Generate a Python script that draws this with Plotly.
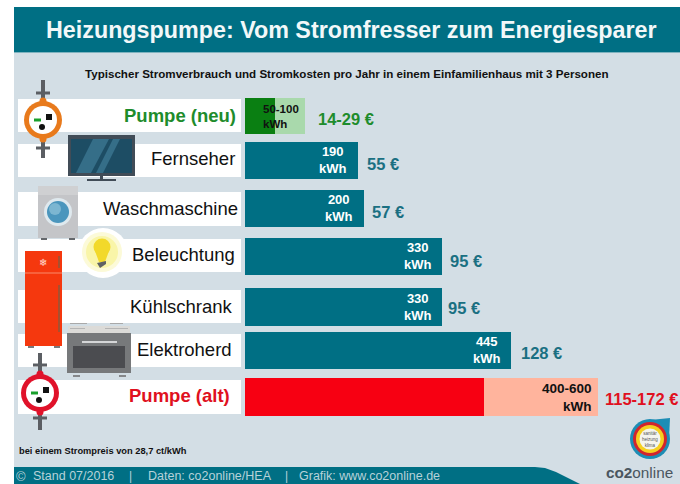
import plotly.graph_objects as go

# ---- data ----
categories = ["Pumpe (neu)", "Fernseher", "Waschmaschine", "Beleuchtung", "Kühlschrank", "Elektroherd", "Pumpe (alt)"]
kwh_low = [50, 190, 200, 330, 330, 445, 400]
# drawn bar ends as measured in the picture (the old pump's bar is drawn a little short of its 600 kWh label)
kwh_high = [100, 190, 200, 330, 330, 445, 591]
kwh_labels = ["50-100<br>kWh", "190<br>kWh", "200<br>kWh", "330<br>kWh", "330<br>kWh", "445<br>kWh", "400-600<br>kWh"]
cost_labels = ["14-29 €", "55 €", "57 €", "95 €", "95 €", "128 €", "115-172 €"]

# ---- layout constants (pixels in the 680x484 window) ----
W, H = 680, 484
PX_PER_KWH = 0.597
X0 = 245
ROW_Y = [116, 160.5, 208.5, 256.5, 307, 350.5, 397]
BAR_H = [36, 37, 37, 37, 38, 37, 38]
ROW_WHITE = [(99, 132), (144, 177), (192, 226), (239, 272), (290, 323), (334, 367), (380, 414)]
LABEL_Y = [115, 158, 208, 255, 306, 349, 395]
LABEL_RIGHT = [236, 235, 238, 235, 233, 232, 230]
COST_Y = [119, 164, 212, 261, 308, 353, 399]
COST_SHIFT = [11, 7, 6, 6, 4, 8, 5]
KWH_Y = [116, 160, 208, 256, 306.5, 350, 397]
KWH_SHIFT = [0, -9, -9, -8, -8, -8, -4]

TEAL = "#006f84"
TEAL_TXT = "#1a7082"
BG = "#d3dee5"
GREEN = "#0a7f12"
LGREEN = "#a9d9ac"
RED = "#f70012"
SALMON = "#ffb49d"
GREEN_TXT = "#1e8c2c"
RED_TXT = "#e01020"
FONT = "Liberation Sans"

fig = go.Figure()

teal_idx = [1, 2, 3, 4, 5]
fig.add_bar(y=[ROW_Y[i] for i in teal_idx], x=[kwh_high[i] for i in teal_idx],
            width=[BAR_H[i] for i in teal_idx], orientation="h", marker_color=TEAL,
            marker_line_width=0, showlegend=False)
for i, dark, light in [(0, GREEN, LGREEN), (6, RED, SALMON)]:
    fig.add_bar(y=[ROW_Y[i]], x=[kwh_low[i]], width=[BAR_H[i]], orientation="h",
                marker_color=dark, marker_line_width=0, showlegend=False)
    fig.add_bar(y=[ROW_Y[i]], x=[kwh_high[i] - kwh_low[i]], base=[kwh_low[i]], width=[BAR_H[i]],
                orientation="h", marker_color=light, marker_line_width=0, showlegend=False)

shapes = []
annots = []


def px(x):
    return x / W


def py(y):
    return 1 - y / H


def rect(x0, y0, x1, y1, color):
    shapes.append(dict(type="rect", xref="paper", yref="paper", x0=px(x0), x1=px(x1), y0=py(y0), y1=py(y1),
                       fillcolor=color, line_width=0, layer="below"))


def circle(cx, cy, r, color, line=None, lw=0):
    shapes.append(dict(type="circle", xref="paper", yref="paper", x0=px(cx - r), x1=px(cx + r),
                       y0=py(cy - r), y1=py(cy + r), fillcolor=color,
                       line=dict(color=line or color, width=lw), layer="below"))


def poly(points, color):
    d = "M " + " L ".join(f"{px(a):.5f},{py(b):.5f}" for a, b in points) + " Z"
    shapes.append(dict(type="path", xref="paper", yref="paper", path=d, fillcolor=color, line_width=0, layer="below"))


def text(x, y, s, size, color, anchor="left", bold=False, align=None):
    annots.append(dict(xref="paper", yref="paper", x=px(x), y=py(y), text=f"<b>{s}</b>" if bold else s,
                       showarrow=False, xanchor=anchor, yanchor="middle", align=align or anchor,
                       font=dict(family=FONT, size=size, color=color), borderpad=0, borderwidth=0))


# panel, header, footer
rect(14, 7, W, H, BG)
rect(14, 7, W, 52, TEAL)
rect(14, 52, W, 53, "#7fb3bf")
poly([(14, 467), (535, 467), (545, 468), (556, 472), (580, H), (14, H)], TEAL)

# white rows
for a, b in ROW_WHITE:
    rect(18, a, 241, b, "#ffffff")


def pump(cx, cy, top, bottom, c1, c2, ring, dash):
    rect(cx - 2, top, cx + 2, bottom, "#5b5e63")
    rect(cx - 7, c1 - 1.5, cx + 7, c1 + 1.5, "#5b5e63")
    rect(cx - 7, c2 - 1.5, cx + 7, c2 + 1.5, "#5b5e63")
    circle(cx, cy - 19, 3.5, ring)
    circle(cx, cy + 19, 3.5, ring)
    circle(cx, cy, 19, ring)
    circle(cx, cy, 14, "#ffffff")
    rect(cx - 9, cy - 1.5, cx - 2, cy + 1.5, dash)
    rect(cx + 3, cy - 6, cx + 9, cy, "#111111")
    circle(cx - 1, cy + 7, 3, "#111111")


pump(43, 120, 80, 158, 93, 148, "#e87a1c", "#19a02c")
pump(40, 393, 353, 430, 365, 418, "#e0122a", "#19a02c")

# television
rect(68, 135, 135, 176, "#414c57")
rect(71, 139, 132, 173, "#1d4d64")
poly([(76, 173), (93, 139), (109, 139), (91, 173)], "#356e88")
poly([(96, 173), (113, 139), (120, 139), (103, 173)], "#356e88")
rect(100, 176, 103, 180, "#414c57")
rect(87, 179, 116, 181, "#414c57")

# washing machine
rect(38, 186, 78, 238, "#c4c5c8")
rect(38, 186, 78, 195, "#cfd0d2")
rect(41, 238, 47, 240, "#65686c")
rect(69, 238, 75, 240, "#65686c")
circle(58, 212, 14, "#dfe9ee")
circle(58, 212, 11, "#4b96bd")
circle(55, 209, 6, "#7cb6d1")

# light bulb
circle(103, 253, 25, "#ffffff")
circle(102, 252, 20, "#fcfad8")
circle(102, 252, 16, "#f9f5a8")
circle(102, 247, 8.5, "#f2d92a")
poly([(95, 251), (109, 251), (105, 262), (99, 262)], "#f2d92a")
poly([(97, 263), (106, 261), (106, 264), (100, 268)], "#5f6264")

# fridge
rect(25, 251, 62, 346, "#f5380e")
rect(25, 272.5, 62, 273.5, "#f98a6b")
rect(58, 256, 60, 268, "#a8502f")
rect(58, 285, 60, 332, "#a8502f")
rect(28, 346, 34, 348, "#787a7c")
rect(54, 346, 60, 348, "#787a7c")
text(43, 262, "❄", 10, "#ffdcd0", "center")

# oven
rect(68, 326, 130, 333, "#dcdbd8")
rect(70, 323, 87, 324, "#a9a9a9")
rect(110, 323, 123, 324, "#a9a9a9")
rect(70, 328, 85, 329, "#b5b5b5")
rect(105, 328, 128, 329, "#b5b5b5")
rect(67, 333, 131, 373, "#77797b")
rect(73, 346, 125, 368, "#4b4c50")
rect(82, 341, 117, 343, "#d5d6d8")
rect(73, 375, 80, 377, "#85878a")
rect(119, 375, 126, 377, "#85878a")

# logo
poly([(650, 420), (670, 418), (669, 439)], "#1d8db5")
circle(650, 439, 20, "#1d8db5")
circle(650, 439, 17, "#d2252d")
circle(650, 439, 14, "#f5d020")
circle(650, 439, 10.5, "#f4f4ee")
text(650, 439, "sanitär<br>heizung<br>klima", 4.5, "#555555", "center", align="center")

# texts
text(351, 30, "Heizungspumpe: Vom Stromfresser zum Energiesparer", 23.3, "#f2f8f9", "center", bold=True)
text(347, 73, "Typischer Stromverbrauch und Stromkosten pro Jahr in einem Einfamilienhaus mit 3 Personen",
     11.6, "#111111", "center", bold=True)
text(19, 451, "bei einem Strompreis von 28,7 ct/kWh", 9.3, "#111111", bold=True)
FOOT = "#b7d2d9"
text(16, 476, "©", 13, FOOT)
text(33, 476, "Stand 07/2016", 12.5, FOOT)
text(129, 476, "|", 12, FOOT)
text(148, 476, "Daten: co2online/HEA", 12.5, FOOT)
text(285, 476, "|", 12, FOOT)
text(299, 476, "Grafik: www.co2online.de", 12.5, FOOT)
text(606, 472, "<b>co2</b>online", 15.3, "#4a565f")

for i, c in enumerate(categories):
    col = GREEN_TXT if i == 0 else RED_TXT if i == 6 else "#111111"
    text(LABEL_RIGHT[i], LABEL_Y[i], c, 18.5, col, "right", bold=i in (0, 6))

# labels tied to data through the axes
for i in range(7):
    col = "#ffffff"
    size = 13
    anchor, align, xv, shift = "right", "center", kwh_high[i], KWH_SHIFT[i]
    if i == 0:
        col, size, anchor, align, xv, shift = "#111111", 11.5, "left", "left", 0, 16
    if i == 6:
        col, size, align = "#111111", 13.5, "right"
    annots.append(dict(x=xv, y=KWH_Y[i], xref="x", yref="y", text=f"<b>{kwh_labels[i]}</b>", showarrow=False,
                       xanchor=anchor, yanchor="middle", align=align, xshift=shift,
                       font=dict(family=FONT, size=size, color=col)))
    ccol = GREEN_TXT if i == 0 else RED_TXT if i == 6 else TEAL_TXT
    annots.append(dict(x=kwh_high[i], y=COST_Y[i], xref="x", yref="y", text=f"<b>{cost_labels[i]}</b>",
                       showarrow=False, xanchor="left", yanchor="middle", xshift=COST_SHIFT[i],
                       font=dict(family=FONT, size=16.5, color=ccol)))

fig.update_layout(
    width=W, height=H, margin=dict(l=0, r=0, t=0, b=0, pad=0),
    paper_bgcolor="#ffffff", plot_bgcolor="rgba(0,0,0,0)",
    barmode="overlay", bargap=0, showlegend=False,
    xaxis=dict(range=[-X0 / PX_PER_KWH, (W - X0) / PX_PER_KWH], visible=False, fixedrange=True),
    yaxis=dict(range=[H, 0], visible=False, fixedrange=True),
    shapes=shapes, annotations=annots, font=dict(family=FONT),
)
fig.write_html("out.html", config=dict(displayModeBar=False),
               post_script="document.body.style.margin='0';document.body.style.overflow='hidden';")
